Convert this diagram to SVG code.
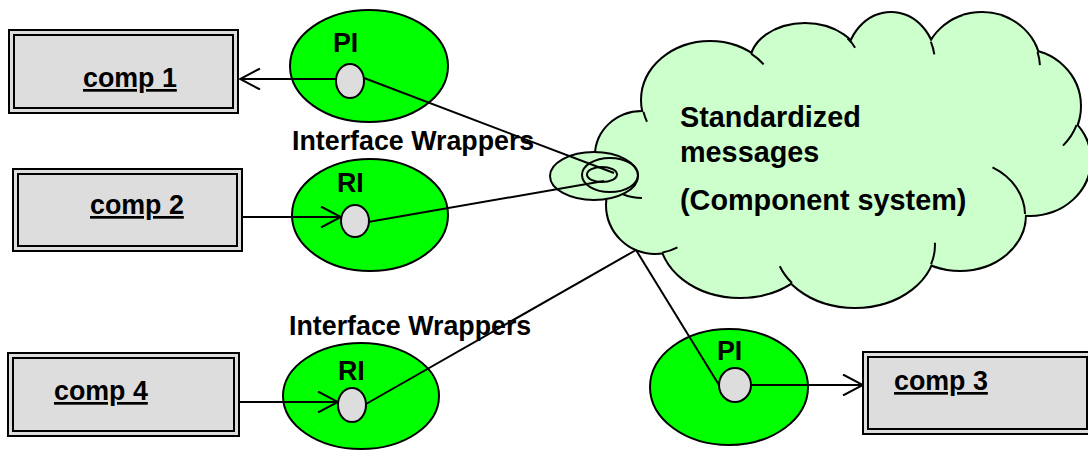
<svg xmlns="http://www.w3.org/2000/svg" xmlns:xlink="http://www.w3.org/1999/xlink" width="1088" height="451" viewBox="0 0 1088 451">
  <style>
    text { font-family: "Liberation Sans", Arial, sans-serif; font-weight: bold; fill: #000; }
    .lbl { font-size: 26.8px; }
    .comp { font-size: 26.8px; text-decoration: underline; }
    .cloudtxt { font-size: 28.8px; }
    .box { fill: #DDDDDD; stroke: #000; stroke-width: 2; }
    .box-in { fill: none; stroke: #000; stroke-width: 2; }
    .wrap { fill: #00FF00; stroke: #000; stroke-width: 2; }
    .port { fill: #DDDDDD; stroke: #000; stroke-width: 2; }
    .hook { fill: none; stroke: #000; stroke-width: 2; }
    .ring { fill: none; stroke: #000; stroke-width: 2; }
    .link { fill: none; stroke: #000; stroke-width: 2; }
  </style>
  <defs>
    <marker id="open-arrow" markerUnits="userSpaceOnUse" viewBox="0 0 22 22" markerWidth="22" markerHeight="22" refX="21" refY="11" orient="auto">
      <path d="M1,0.5 L21,11 L1,21.5" fill="none" stroke="#000" stroke-width="2"/>
    </marker>
    <!-- puffs that make up the cloud outline -->
    <g id="puffs">
      <ellipse cx="642" cy="155" rx="46" ry="43"/>
      <ellipse cx="710" cy="100" rx="68" ry="58"/>
      <ellipse cx="805" cy="62" rx="54" ry="38"/>
      <ellipse cx="891" cy="63" rx="44" ry="50"/>
      <ellipse cx="982" cy="68" rx="58" ry="55"/>
      <ellipse cx="1022" cy="106" rx="58" ry="56"/>
      <ellipse cx="1030" cy="160" rx="60" ry="55"/>
      <ellipse cx="960" cy="215" rx="65" ry="55"/>
      <ellipse cx="855" cy="245" rx="80" ry="62"/>
      <ellipse cx="740" cy="235" rx="80" ry="62"/>
      <ellipse cx="655" cy="205" rx="48" ry="48"/>
    </g>
  </defs>

  <rect width="1088" height="451" fill="#FFFFFF"/>

  <!-- message cloud -->
  <g id="cloud">
    <use xlink:href="#puffs" fill="#CCFFCC" stroke="#000" stroke-width="4"/>
    <use xlink:href="#puffs" fill="#CCFFCC" stroke="none"/>
    <ellipse cx="840" cy="160" rx="190" ry="100" fill="#CCFFCC"/>
    <path class="hook" d="M643.5,112 A68,58 0 0 0 647,121.7"/>
    <path class="hook" d="M751,53.7 A68,58 0 0 1 763.6,64.3"/>
    <path class="hook" d="M847.6,38.6 A54,38 0 0 1 855.1,47.8"/>
    <path class="hook" d="M930.9,41.9 A44,50 0 0 1 934.3,54.3"/>
    <path class="hook" d="M1037.5,51.9 A58,55 0 0 1 1039.9,65.1"/>
    <path class="hook" d="M1076.5,125.2 A58,56 0 0 1 1063,145.6"/>
    <path class="hook" d="M992.5,167.4 A65,55 0 0 1 1025,214"/>
    <path class="hook" d="M931.1,264.2 A80,62 0 0 0 934.9,242.8"/>
    <path class="hook" d="M792,283 A80,62 0 0 1 779.8,266.2"/>
    <path class="hook" d="M662.5,252.4 A48,48 0 0 0 677.5,247.4"/>
    <path class="hook" d="M607.8,183.8 A46,43 0 0 0 642,198"/>
    <text class="cloudtxt" x="680" y="127">Standardized</text>
    <text class="cloudtxt" x="680" y="162">messages</text>
    <text class="cloudtxt" x="680" y="210">(Component system)</text>
    <!-- connection rings where links enter the cloud -->
    <ellipse cx="594" cy="176" rx="44" ry="24" fill="#CCFFCC" stroke="#000" stroke-width="2"/>
    <ellipse class="ring" cx="610" cy="175" rx="28" ry="17"/>
    <ellipse class="ring" cx="602" cy="174.5" rx="15" ry="7.5"/>
  </g>

  <!-- components -->
  <g id="comp1">
    <rect class="box" x="9" y="30" width="229" height="83"/>
    <rect class="box-in" x="14" y="35" width="219" height="73"/>
    <text class="comp" x="83" y="87">comp 1</text>
  </g>
  <g id="comp2">
    <rect class="box" x="13" y="169" width="229" height="82"/>
    <rect class="box-in" x="18" y="174" width="219" height="72"/>
    <text class="comp" x="90" y="214">comp 2</text>
  </g>
  <g id="comp4">
    <rect class="box" x="8" y="353" width="231" height="83"/>
    <rect class="box-in" x="13" y="358" width="221" height="73"/>
    <text class="comp" x="54" y="400">comp 4</text>
  </g>
  <g id="comp3">
    <rect class="box" x="863" y="352" width="229" height="82"/>
    <rect class="box-in" x="868" y="357" width="219" height="72"/>
    <text class="comp" x="894" y="390">comp 3</text>
  </g>

  <!-- interface wrappers -->
  <g id="wrapper-pi1">
    <ellipse class="wrap" cx="369" cy="66" rx="79" ry="56"/>
    <text class="lbl" x="333" y="52">PI</text>
    <ellipse class="port" cx="350" cy="81" rx="14" ry="17"/>
  </g>
  <g id="wrapper-ri2">
    <ellipse class="wrap" cx="370" cy="215" rx="78" ry="56"/>
    <text class="lbl" x="337" y="192">RI</text>
    <ellipse class="port" cx="355" cy="221" rx="14" ry="16"/>
  </g>
  <g id="wrapper-ri4">
    <ellipse class="wrap" cx="361" cy="396" rx="78" ry="53"/>
    <text class="lbl" x="338" y="380">RI</text>
    <ellipse class="port" cx="352" cy="405" rx="14" ry="17"/>
  </g>
  <g id="wrapper-pi3">
    <ellipse class="wrap" cx="729" cy="387" rx="79" ry="58"/>
    <text class="lbl" x="717" y="360">PI</text>
    <ellipse class="port" cx="735" cy="385" rx="16" ry="17"/>
  </g>

  <g id="labels">
    <text class="lbl" x="292" y="150">Interface Wrappers</text>
    <text class="lbl" x="289" y="335">Interface Wrappers</text>
  </g>

  <!-- connectors -->
  <g id="connectors">
    <line class="link" x1="336" y1="79" x2="240" y2="79" marker-end="url(#open-arrow)"/>
    <line class="link" x1="364" y1="78" x2="614" y2="173"/>
    <line class="link" x1="243" y1="217" x2="341" y2="217" marker-end="url(#open-arrow)"/>
    <line class="link" x1="368" y1="222" x2="604" y2="181"/>
    <line class="link" x1="240" y1="402" x2="338" y2="402" marker-end="url(#open-arrow)"/>
    <line class="link" x1="366" y1="404" x2="636" y2="250"/>
    <line class="link" x1="636" y1="250" x2="719" y2="385"/>
    <line class="link" x1="751" y1="385" x2="863" y2="385" marker-end="url(#open-arrow)"/>
  </g>
</svg>
